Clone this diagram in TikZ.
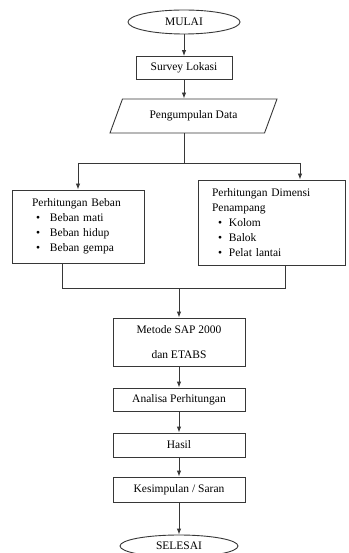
\documentclass[tikz,border=0pt]{standalone}
\usepackage{fontspec}
\setmainfont{Liberation Serif}
\usepackage{tikz}
\usetikzlibrary{arrows.meta,shapes.geometric}
\definecolor{LineGray}{RGB}{55,55,55}

\begin{document}
\begin{tikzpicture}[x=1pt,y=-1pt,font=\fontsize{11.5}{15}\selectfont,>={Latex[length=6pt,width=4.5pt]},
  box/.style={draw=LineGray,line width=.9pt,rectangle,inner sep=0pt},
  term/.style={draw=LineGray,line width=.9pt,ellipse,inner sep=0pt},
  link/.style={draw=LineGray,line width=.9pt}]
\useasboundingbox (0,0) rectangle (348,553);
\node[term,minimum width=112,minimum height=24] (mulai) at (184,22){MULAI};
\node[box,minimum width=96,minimum height=23] (survey) at (184,68){Survey Lokasi};
\node[draw=LineGray,line width=.9pt,trapezium,trapezium left angle=40,trapezium right angle=140,
  trapezium stretches body,minimum width=167,minimum height=34,inner sep=0pt] (data) at (193.5,116){Pengumpulan Data};
\node[box,minimum width=132,minimum height=73,text width=92,inner xsep=20,align=left] (beban) at (78,226.5){Perhitungan Beban\\
  \hspace*{4pt}\makebox[14pt][l]{\textbullet}Beban mati\\
  \hspace*{4pt}\makebox[14pt][l]{\textbullet}Beban hidup\\
  \hspace*{4pt}\makebox[14pt][l]{\textbullet}Beban gempa};
\node[box,minimum width=147,minimum height=85,text width=119,inner xsep=14,align=left] (dimensi) at (271.5,222.5){Perhitungan Dimensi\\
  Penampang\\
  \hspace*{6pt}\makebox[11pt][l]{\textbullet}Kolom\\
  \hspace*{6pt}\makebox[11pt][l]{\textbullet}Balok\\
  \hspace*{6pt}\makebox[11pt][l]{\textbullet}Pelat lantai};
\node[box,minimum width=132,minimum height=48,align=center] (metode) at (179,342){Metode SAP 2000\\[10pt]dan ETABS};
\node[box,minimum width=132,minimum height=23] (analisa) at (179,399.5){Analisa Perhitungan};
\node[box,minimum width=132,minimum height=24] (hasil) at (179,445){Hasil};
\node[box,minimum width=132,minimum height=25] (simpul) at (179,489.5){Kesimpulan / Saran};
\node[term,minimum width=118,minimum height=22] (selesai) at (179,546){SELESAI};
% percabangan
\coordinate (split) at (184,163);
\coordinate (jl) at (78,163);
\coordinate (jr) at (300,163);
\coordinate (ml) at (62,288);
\coordinate (mr) at (285,288);
\coordinate (mc) at (179,288);
\draw[link,->] (mulai) -- (survey);
\draw[link,->] (survey) -- (survey |- data.north);
\draw[link] (data.south -| split) -- (split);
\draw[link] (jl) -- (jr);
\draw[link,->] (jl) -- (jl |- beban.north);
\draw[link,->] (jr) -- (jr |- dimensi.north);
\draw[link] (beban.south -| ml) -- (ml) -- (mr) -- (dimensi.south -| mr);
\draw[link,->] (mc) -- (metode);
\draw[link,->] (metode) -- (analisa);
\draw[link,->] (analisa) -- (hasil);
\draw[link,->] (hasil) -- (simpul);
\draw[link,->] (simpul) -- (selesai);
\end{tikzpicture}
\end{document}
